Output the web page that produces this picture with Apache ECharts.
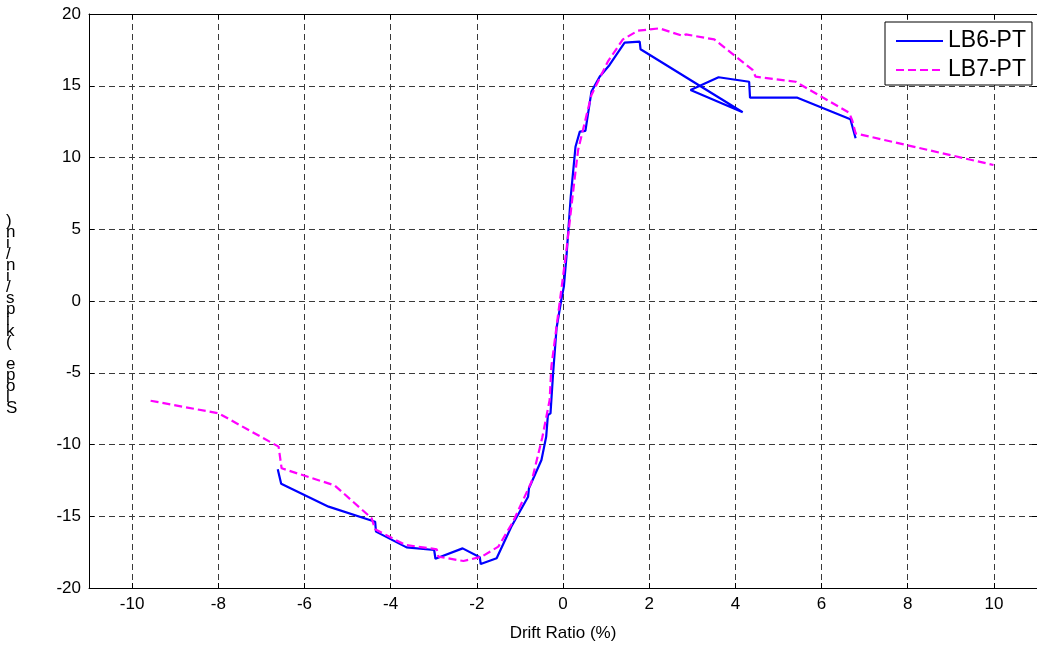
<!DOCTYPE html>
<html>
<head>
<meta charset="utf-8">
<script src="https://cdn.jsdelivr.net/npm/echarts@6/dist/echarts.min.js"></script>
<style>
html,body{margin:0;padding:0;background:#fff;}
#chart{width:1037px;height:647px;}
</style>
</head>
<body>
<div id="chart"></div>
<script>
var xTickValues = [-10, -8, -6, -4, -2, 0, 2, 4, 6, 8, 10];
var yTickValues = [-20, -15, -10, -5, 0, 5, 10, 15, 20];
var seriesNames = ['LB6-PT', 'LB7-PT'];
var xTitle = 'Drift Ratio (%)';
var yTitle = 'Slope (kips/in/in)';

var lb6X = [-6.62,-6.54,-5.44,-4.36,-4.34,-3.63,-2.99,-2.96,-2.33,-1.93,-1.91,-1.54,-1.20,-0.81,-0.79,-0.50,-0.39,-0.35,-0.29,-0.23,-0.15,-0.04,0.02,0.08,0.18,0.29,0.39,0.52,0.66,0.85,1.08,1.43,1.78,1.80,4.17,2.96,3.61,4.32,4.34,5.44,6.67,6.79];
var lb6Y = [-11.73,-12.73,-14.33,-15.38,-16.07,-17.17,-17.35,-17.96,-17.24,-17.86,-18.33,-17.93,-15.73,-13.64,-13.05,-11.08,-9.45,-7.94,-7.83,-5.04,-1.90,0.07,1.00,3.09,7.27,10.75,11.80,11.85,14.59,15.63,16.45,18.00,18.07,17.54,13.15,14.70,15.59,15.28,14.17,14.17,12.66,11.34];

var lb7X = [-9.57,-7.99,-6.60,-6.53,-5.30,-4.44,-4.36,-3.66,-2.93,-2.89,-2.31,-1.89,-1.50,-1.16,-0.73,-0.48,-0.31,-0.27,-0.12,0.08,0.23,0.35,0.66,1.04,1.39,1.74,2.24,2.78,2.85,3.51,4.40,4.47,5.40,6.64,6.71,6.79,9.99];
var lb7Y = [-6.95,-7.83,-10.15,-11.66,-12.85,-15.14,-15.91,-17.00,-17.30,-17.82,-18.12,-17.82,-17.12,-15.38,-12.60,-9.50,-6.90,-4.58,-1.09,3.55,7.50,10.52,14.36,16.68,18.23,18.84,19.00,18.47,18.58,18.23,16.10,15.63,15.28,13.12,12.61,11.68,9.48];

function pairs(xs, ys) { return xs.map(function (x, i) { return [x, ys[i]]; }); }

var font = '"Liberation Sans", Arial, sans-serif';
var gridDash = { color: '#3a3a3a', width: 1, type: [6, 4] };

var chart = echarts.init(document.getElementById('chart'), null, { renderer: 'canvas' });
var option = {
  backgroundColor: '#fff',
  animation: false,
  grid: { left: 89, right: -3, top: 14, bottom: 59, containLabel: false },
  xAxis: [{
    type: 'value', min: -11, max: 11, position: 'bottom',
    name: xTitle, nameLocation: 'middle', nameGap: 37,
    nameTextStyle: { color: '#000', fontSize: 17, fontFamily: font },
    axisLine: { show: true, onZero: false, lineStyle: { color: '#000', width: 1 } },
    axisTick: { show: true, inside: true, length: 5, customValues: xTickValues, lineStyle: { color: '#000' } },
    axisLabel: { show: true, customValues: xTickValues, color: '#000', fontSize: 17, fontFamily: font, margin: 8 },
    splitLine: { show: true, customValues: xTickValues, lineStyle: gridDash }
  }, {
    type: 'value', min: -11, max: 11, position: 'top',
    axisLine: { show: true, onZero: false, lineStyle: { color: '#000', width: 1 } },
    axisTick: { show: true, inside: true, length: 5, customValues: xTickValues, lineStyle: { color: '#000' } },
    axisLabel: { show: false },
    splitLine: { show: false }
  }],
  yAxis: [{
    type: 'value', min: -20, max: 20, interval: 5, position: 'left',
    axisLine: { show: true, onZero: false, lineStyle: { color: '#000', width: 1 } },
    axisTick: { show: true, inside: true, length: 5, lineStyle: { color: '#000' } },
    axisLabel: { show: true, color: '#000', fontSize: 17, fontFamily: font, margin: 8 },
    splitLine: { show: true, lineStyle: gridDash }
  }, {
    type: 'value', min: -20, max: 20, interval: 5, position: 'right',
    axisLine: { show: true, onZero: false, lineStyle: { color: '#000', width: 1 } },
    axisTick: { show: true, inside: true, length: 5, lineStyle: { color: '#000' } },
    axisLabel: { show: false },
    splitLine: { show: false }
  }],
  legend: {
    show: true, orient: 'vertical', left: 885, top: 22,
    data: seriesNames,
    itemWidth: 47, itemHeight: 14, itemGap: 3,
    padding: [6, 6, 2, 10],
    itemStyle: { opacity: 0 },
    backgroundColor: '#fff', borderColor: '#000', borderWidth: 1, borderRadius: 0,
    textStyle: { color: '#000', fontSize: 23, lineHeight: 26, fontFamily: font }
  },
  graphic: [{
    type: 'text', left: 6, top: 213, silent: true,
    style: {
      text: yTitle.split('').reverse().join('\n'),
      fill: '#000', font: '17px ' + font, lineHeight: 11, align: 'center'
    }
  }],
  series: [{
    name: seriesNames[0], type: 'line', xAxisIndex: 0, yAxisIndex: 0,
    data: pairs(lb6X, lb6Y), showSymbol: false, symbol: 'none',
    lineStyle: { color: '#0000ff', width: 2.2 }, itemStyle: { color: '#0000ff' }, z: 3
  }, {
    name: seriesNames[1], type: 'line', xAxisIndex: 0, yAxisIndex: 0,
    data: pairs(lb7X, lb7Y), showSymbol: false, symbol: 'none',
    lineStyle: { color: '#ff00ff', width: 2.2, type: [8, 4] }, itemStyle: { color: '#ff00ff' }, z: 4
  }]
};
chart.setOption(option);
</script>
</body>
</html>
